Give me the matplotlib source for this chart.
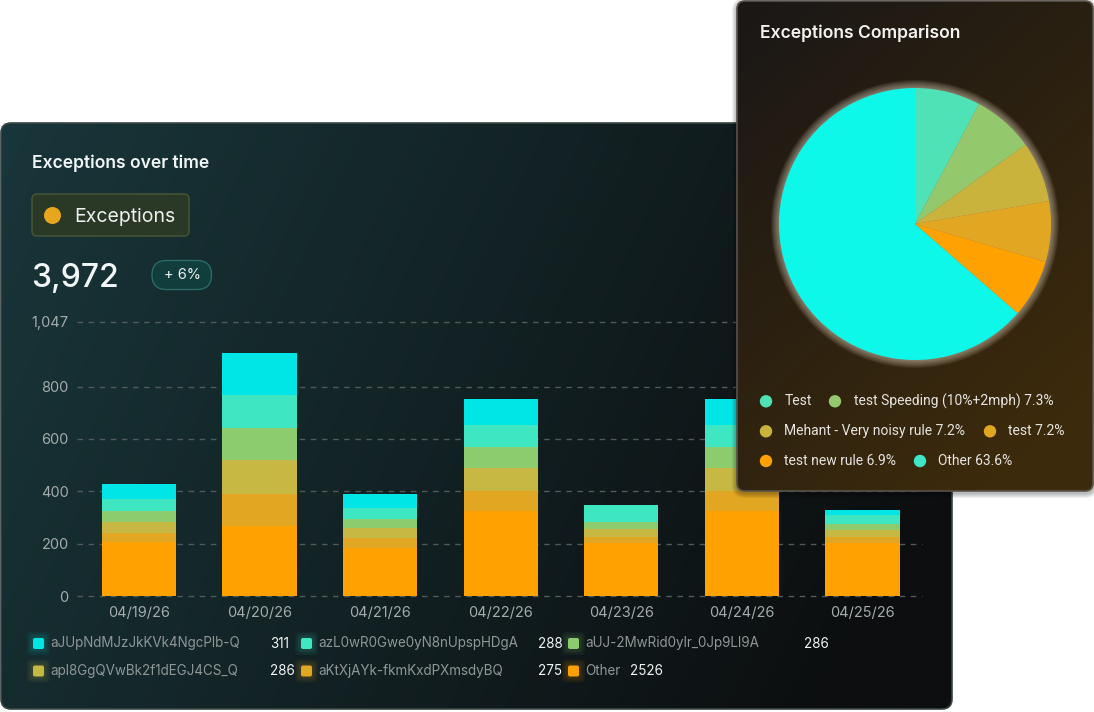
import matplotlib
matplotlib.use('Agg')
import matplotlib.pyplot as plt
import numpy as np
from matplotlib.patches import FancyBboxPatch, Circle
from matplotlib.colors import to_rgb

W, H = 1094, 712

# ---- data ----
dates = ['04/19/26', '04/20/26', '04/21/26', '04/22/26', '04/23/26', '04/24/26', '04/25/26']
other_v = [205, 269, 183, 323, 202, 323, 202]
aktx_v = [37, 120, 38, 79, 25, 79, 25]
apl8_v = [42, 129, 37, 89, 29, 89, 26]
auj_v = [42, 124, 36, 77, 26, 77, 23]
azl0_v = [44, 127, 43, 87, 65, 87, 34]
ajup_v = [59, 160, 54, 98, 0, 98, 19]
yticks = [0, 200, 400, 600, 800, 1047]

legend_names = ['aJUpNdMJzJkKVk4NgcPlb-Q', 'azL0wR0Gwe0yN8nUpspHDgA', 'aUJ-2MwRid0ylr_0Jp9LI9A',
                'apl8GgQVwBk2f1dEGJ4CS_Q', 'aKtXjAYk-fkmKxdPXmsdyBQ', 'Other']
legend_totals = [311, 288, 286, 286, 275, 2526]

pie_labels = ['Test', 'test Speeding (10%+2mph)', 'Mehant - Very noisy rule', 'test',
              'test new rule', 'Other']
pie_pct = [7.8, 7.3, 7.2, 7.2, 6.9, 63.6]
pie_legend = ['Test', 'test Speeding (10%+2mph) 7.3%', 'Mehant - Very noisy rule 7.2%',
              'test 7.2%', 'test new rule 6.9%', 'Other 63.6%']

C_CYAN, C_TEAL, C_GREEN = '#00e6e6', '#3fe6c2', '#8ccb6e'
C_OLIVE, C_GOLD, C_ORANGE = '#c6b843', '#e2a722', '#ffa100'
pie_colors = ['#4ee2b6', '#93c96c', '#c9b33c', '#e2a722', '#ffa100', '#0ef8ea']
pie_dot = ['#4ee2b6', '#93c96c', '#c9b33c', '#e2a722', '#ffa100', '#3fe6c8']

FONT = 'Inter'
plt.rcParams['font.family'] = [FONT, 'DejaVu Sans']

fig = plt.figure(figsize=(W / 100, H / 100), dpi=100)
fig.patch.set_facecolor('white')


def px_axes(x0, y0, x1, y1, z):
    return fig.add_axes([x0 / W, 1 - y1 / H, (x1 - x0) / W, (y1 - y0) / H], zorder=z)


def canvas(z):
    a = fig.add_axes([0, 0, 1, 1], zorder=z)
    a.set_xlim(0, W); a.set_ylim(H, 0)
    a.axis('off'); a.patch.set_alpha(0)
    return a


def gradient_card(ax, x0, y0, x1, y1, c_a, c_b, wx, wy, edge, r=10):
    box = FancyBboxPatch((x0, y0), x1 - x0, y1 - y0,
                         boxstyle=f'round,pad=0,rounding_size={r}',
                         fc='none', ec=edge, lw=1.2, zorder=3)
    ax.add_patch(box)
    xs = np.linspace(0, 1, 200); ys = np.linspace(0, 1, 200)
    X, Y = np.meshgrid(xs, ys)
    t = np.clip(wx * X + wy * Y, 0, 1)[..., None]
    img = (1 - t) * np.array(to_rgb(c_a)) + t * np.array(to_rgb(c_b))
    im = ax.imshow(img, extent=[x0, x1, y1, y0], origin='upper', aspect='auto', zorder=2,
                   interpolation='bilinear')
    im.set_clip_path(box)
    ax.set_xlim(0, W); ax.set_ylim(H, 0)


# ---- left card ----
bg = canvas(0)
gradient_card(bg, 1, 123, 952, 709, '#19363a', '#0c0e0f', 0.85, 0.25, '#3b4546')
bg.text(32, 168, 'Exceptions over time', color='#f2f5f5', fontsize=12.6,
        fontweight='semibold', zorder=5)
bg.add_patch(FancyBboxPatch((32, 194), 157, 42, boxstyle='round,pad=0,rounding_size=5',
                            fc='#2a3826', ec='#4a5838', lw=1, zorder=4))
bg.add_patch(Circle((52.5, 215.5), 8.5, fc='#e8a61e', ec='none', zorder=5))
bg.text(74, 222, 'Exceptions', color='#eef2f0', fontsize=14, zorder=5)
bg.text(31, 287, '3,972', color='#f2f6f6', fontsize=23, fontweight='medium', zorder=5)
bg.add_patch(FancyBboxPatch((152, 260.5), 59.5, 29, boxstyle='round,pad=0,rounding_size=14.5',
                            fc='#123d3d', ec='#2b6a66', lw=1, zorder=4))
bg.text(182, 275, '+ 6%', color='#e8f0f0', fontsize=10.5, ha='center', va='center', zorder=5)

# bottom legend
leg_sq = [C_CYAN, C_TEAL, C_GREEN, C_OLIVE, C_GOLD, C_ORANGE]
col_sq = [33, 301, 568]
col_val = [270, 538, 804]
row_y = [643.5, 671]
for i, (nm, tot) in enumerate(zip(legend_names, legend_totals)):
    r, c = divmod(i, 3)
    x, y = col_sq[c], row_y[r]
    for g in range(4, 0, -1):
        bg.add_patch(FancyBboxPatch((x - g * 1.5, y - 5.5 - g * 1.5), 11 + g * 3, 11 + g * 3,
                                    boxstyle='round,pad=0,rounding_size=4',
                                    fc=leg_sq[i], ec='none', alpha=0.05, zorder=4))
    bg.add_patch(FancyBboxPatch((x, y - 5.5), 11, 11, boxstyle='round,pad=0,rounding_size=2',
                                fc=leg_sq[i], ec='none', zorder=5))
    bg.text(x + 17, y, nm, color='#8e9696', fontsize=9.7, va='center', zorder=5)
    vx = 630 if nm == 'Other' else col_val[c]
    bg.text(vx, y, str(tot), color='#f0f4f4', fontsize=9.7, va='center', zorder=5)

# ---- stacked bars ----
ax = px_axes(77, 322, 921.7, 596, 2)
ax.patch.set_alpha(0)
x = np.arange(len(dates))
bottom = np.zeros(len(dates))
for vals, col in [(other_v, C_ORANGE), (aktx_v, C_GOLD), (apl8_v, C_OLIVE),
                  (auj_v, C_GREEN), (azl0_v, C_TEAL), (ajup_v, C_CYAN)]:
    ax.bar(x, vals, bottom=bottom, width=0.616, color=col, lw=0, zorder=3)
    bottom += np.array(vals)
ax.set_xlim(-0.512, 6.49)
ax.set_ylim(0, 1047)
ax.set_yticks(yticks)
ax.set_yticklabels([f'{v:,}' for v in yticks])
ax.set_xticks(x)
ax.set_xticklabels(dates)
ax.tick_params(axis='both', length=0, colors='#a3abab', labelsize=10.5)
ax.tick_params(axis='y', pad=6)
ax.tick_params(axis='x', pad=7)
for s in ax.spines.values():
    s.set_visible(False)
for v in yticks:
    ax.axhline(v, color='#505a5a', lw=1, ls=(0, (4, 4)), zorder=1, clip_on=False)

# ---- right card (pie) ----
ov = canvas(6)
for g in range(1, 6):
    ov.add_patch(FancyBboxPatch((737 - g, 1 - g + 2), 356 + 2 * g, 490 + 2 * g,
                                boxstyle=f'round,pad=0,rounding_size={8 + g}',
                                fc='black', ec='none', alpha=0.06, zorder=1))
gradient_card(ov, 737, 1, 1093, 491, '#1a1716', '#3c2a0c', 0.45, 0.7, '#58524c', r=8)
ov.text(760, 38, 'Exceptions Comparison', color='#f4f2ee', fontsize=12.6,
        fontweight='semibold', zorder=5)
dots_x = [[766, 835], [766, 990], [766, 920]]
dots_y = [401.3, 431.3, 461]
for i, lab in enumerate(pie_legend):
    r, c = divmod(i, 2)
    dx, dy = dots_x[r][c], dots_y[r]
    ov.add_patch(Circle((dx, dy), 6.2, fc=pie_dot[i], ec='none', zorder=5))
    ov.text(dx + 18.5, dy, lab, color='#e6e4e0', fontsize=10, va='center',
            family=['Roboto', 'DejaVu Sans'], zorder=5)

pax = px_axes(915 - 160, 224 - 160, 915 + 160, 224 + 160, 7)
pax.set_xlim(-160, 160); pax.set_ylim(-160, 160); pax.set_aspect('equal')
pax.axis('off'); pax.patch.set_alpha(0)
for g in range(8, 0, -1):
    pax.add_patch(Circle((0, 0), 136 + g * 1.0, fc='#f4e6d0', ec='none', alpha=0.07, zorder=1))
pax.pie(pie_pct, colors=pie_colors, startangle=90, counterclock=False, radius=136,
        center=(0, 0), wedgeprops=dict(lw=0), frame=False)
pax.set_xlim(-160, 160); pax.set_ylim(-160, 160)
pax.axis('off')

fig.savefig('out.png', dpi=100, facecolor='white')
